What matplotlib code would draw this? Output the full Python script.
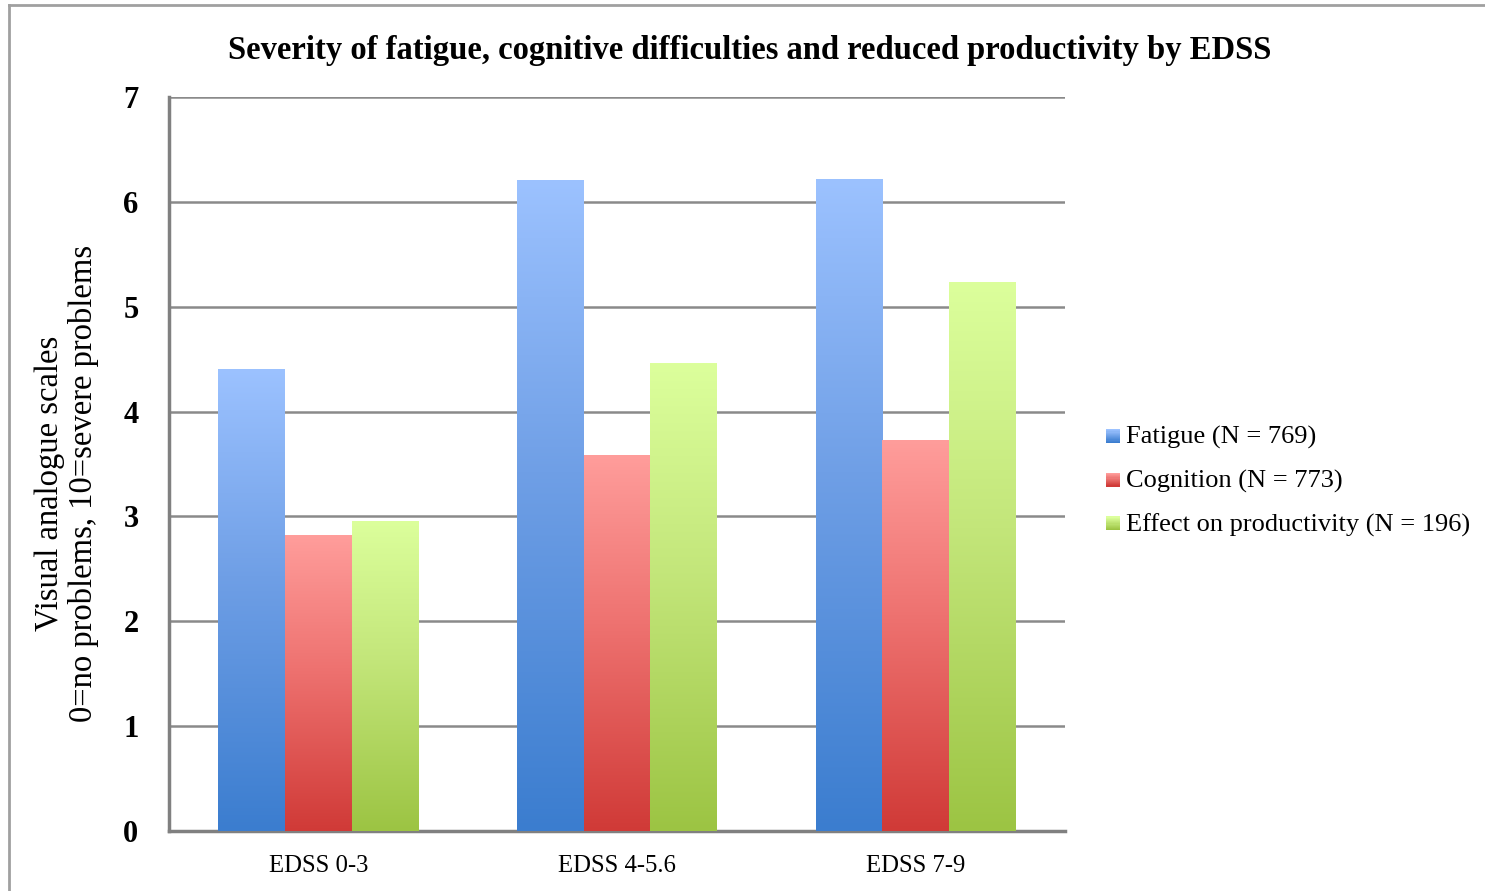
import numpy as np
import matplotlib
matplotlib.use("Agg")
import matplotlib.pyplot as plt
from matplotlib.colors import LinearSegmentedColormap
from matplotlib.patches import Rectangle
from matplotlib.legend_handler import HandlerBase
from matplotlib.lines import Line2D

categories = ["EDSS 0-3", "EDSS 4-5.6", "EDSS 7-9"]
series_names = ["Fatigue (N = 769)", "Cognition (N = 773)", "Effect on productivity (N = 196)"]
fatigue = [4.41, 6.21, 6.22]
cognition = [2.82, 3.59, 3.73]
productivity = [2.96, 4.46, 5.24]
yticks = [0, 1, 2, 3, 4, 5, 6, 7]
title = "Severity of fatigue, cognitive difficulties and reduced productivity by EDSS"
ylabel = "Visual analogue scales\n0=no problems, 10=severe problems"

series = [fatigue, cognition, productivity]
grads = [("#3b7dcf", "#6f9fe6", "#9cc2ff"),
         ("#d03a37", "#ee7270", "#ff9d9b"),
         ("#9cc443", "#c3e67a", "#dcff9c")]

plt.rcParams['font.family'] = ['Liberation Serif', 'DejaVu Serif']
fig = plt.figure(figsize=(14.85, 8.91), dpi=100)
ax = fig.add_axes([169/1485, 60/891, (1065-169)/1485, (831-97)/891])

x = np.arange(len(categories))
w = 0.223
for i, (vals, cols) in enumerate(zip(series, grads)):
    cmap = LinearSegmentedColormap.from_list(f"g{i}", [(0, cols[0]), (0.55, cols[1]), (1, cols[2])])
    bars = ax.bar(x + (i - 1) * w, vals, width=w, color=cols[2], zorder=3, linewidth=0)
    for b in bars:
        bx = b.get_x()
        bw, bh = b.get_width(), b.get_height()
        grad = np.linspace(0, 1, 256).reshape(-1, 1)
        im = ax.imshow(grad, cmap=cmap, origin="lower", aspect="auto",
                       extent=[bx, bx + bw, 0, bh], zorder=3.5)
        im.set_clip_path(b)

ax.set_xlim(-0.5, 2.5)
ax.set_ylim(0, 7)
ax.set_yticks(yticks)
ax.set_yticklabels([str(t) for t in yticks], fontsize=22, fontweight="bold")
ax.set_xticks(x)
ax.set_xticklabels(categories, fontsize=17.8)
ax.tick_params(axis="y", length=0, pad=22)
ax.tick_params(axis="x", length=0, pad=17)
ax.yaxis.grid(True, color="#8a8a8a", linewidth=1.8, zorder=0)
ax.set_axisbelow(True)
for s in ["top", "right"]:
    ax.spines[s].set_visible(False)
ax.spines["left"].set_color("#808080")
ax.spines["left"].set_linewidth(2.5)
ax.spines["bottom"].set_color("#808080")
ax.spines["bottom"].set_linewidth(2.5)
ax.set_ylabel(ylabel, fontsize=23.5, linespacing=1.15)
ax.yaxis.set_label_coords(-0.078, 0.473)

fig.text(750/1485, 1 - 50/891, title, fontsize=23.5, fontweight="bold",
         ha="center", va="center")


class GradHandler(HandlerBase):
    def __init__(self, cols):
        super().__init__()
        self.cols = cols

    def create_artists(self, legend, orig_handle, xdescent, ydescent, width,
                       height, fontsize, trans):
        arts = []
        n = 12
        size = height * 0.75
        x0 = width - size
        cm = LinearSegmentedColormap.from_list("h", [self.cols[0], self.cols[2]])
        for k in range(n):
            r = Rectangle((x0 - xdescent, -ydescent + size * k / n + height * 0.05), size, size / n + 0.05,
                          facecolor=cm(k / (n - 1)), edgecolor="none", transform=trans)
            arts.append(r)
        return arts


handles = [Line2D([], []) for _ in series_names]
hmap = {h: GradHandler(c) for h, c in zip(handles, grads)}
leg = fig.legend(handles, series_names, handler_map=hmap, loc="center left",
                 bbox_to_anchor=(1078/1485, 1 - 481/891), frameon=False,
                 fontsize=19, handlelength=0.7, handletextpad=0.2, labelspacing=0.75)

# outer frame (left and top edges)
fig.add_artist(Line2D([9/1485, 9/1485], [0, 1 - 5/891], transform=fig.transFigure,
                      color="#a0a0a0", linewidth=2))
fig.add_artist(Line2D([9/1485, 1], [1 - 5/891, 1 - 5/891], transform=fig.transFigure,
                      color="#a0a0a0", linewidth=2))

fig.savefig("out.png", dpi=100)
